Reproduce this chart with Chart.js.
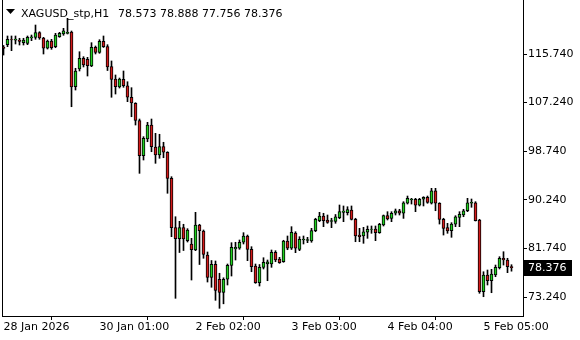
<!DOCTYPE html>
<html>
<head>
<meta charset="utf-8">
<script src="https://cdn.jsdelivr.net/npm/chart.js@4.4.1/dist/chart.umd.min.js"></script>
<style>
    html, body { margin: 0; padding: 0; background: #ffffff; }
    #wrap { width: 580px; height: 340px; }
</style>
</head>
<body>
<div id="wrap"><canvas id="priceChart" width="580" height="340"></canvas></div>
<script>
    "use strict";
    const symbolName = 'XAGUSD_stp,H1';
    // H1 bars, index 0 = 28 Jan 2026
    const opens = [116.96, 117.37, 118.28, 118.14, 118.19, 117.72, 117.61, 118.54, 118.66, 119.47,
        118.54, 116.74, 118.01, 117.02, 118.76, 119.24, 119.36, 119.59, 110.02, 113.12,
        114.99, 114.81, 113.64, 116.91, 116.00, 117.96, 117.05, 113.55, 111.37, 109.97,
        111.31, 110.19, 108.17, 107.12, 104.11, 97.95, 100.87, 103.32, 99.48, 98.08,
        99.53, 98.55, 94.00, 85.39, 83.44, 85.39, 83.09, 82.51, 81.46, 85.81,
        84.78, 80.59, 76.65, 78.96, 76.34, 74.03, 76.34, 78.78, 81.63, 81.76,
        82.81, 83.91, 81.58, 78.66, 75.74, 78.43, 79.01, 79.01, 81.06, 79.89,
        79.41, 83.03, 81.76, 84.43, 81.55, 83.21, 83.12, 83.03, 84.84, 86.59,
        87.41, 86.71, 86.45, 86.45, 87.11, 88.05, 87.99, 88.46, 86.83, 84.08,
        83.91, 84.56, 85.05, 85.13, 84.49, 85.83, 87.46, 87.00, 87.88, 88.33,
        87.88, 89.63, 90.20, 90.33, 89.28, 90.33, 90.68, 89.63, 91.83, 89.63,
        86.83, 85.36, 84.84, 85.96, 87.18, 87.58, 88.33, 89.63, 89.73, 86.71,
        74.17, 77.09, 76.09, 77.09, 78.36, 80.01, 79.71, 78.573];
    const highs = [117.23, 118.89, 118.89, 118.89, 118.49, 118.49, 118.89, 119.06, 120.81, 119.64,
        118.66, 118.19, 118.31, 119.36, 119.53, 120.23, 121.98, 119.76, 113.24, 116.14,
        115.27, 115.16, 117.72, 117.14, 118.24, 118.89, 117.37, 114.52, 112.07, 111.54,
        112.77, 110.89, 109.85, 107.22, 104.37, 101.28, 103.79, 104.37, 101.87, 101.70,
        100.30, 98.65, 94.28, 87.28, 86.48, 85.96, 85.19, 83.50, 88.05, 85.96,
        84.96, 81.11, 79.62, 79.54, 77.39, 76.60, 79.01, 82.74, 82.81, 83.21,
        84.49, 84.08, 82.04, 79.01, 78.92, 80.11, 79.71, 81.46, 81.34, 80.18,
        83.16, 83.91, 85.54, 84.66, 83.79, 83.91, 83.68, 85.25, 87.01, 88.05,
        87.88, 87.58, 87.01, 87.67, 89.33, 89.16, 89.03, 89.16, 87.01, 85.25,
        85.43, 85.66, 85.66, 85.66, 86.13, 87.58, 88.16, 88.16, 88.63, 88.58,
        89.91, 90.90, 90.50, 90.50, 90.50, 90.78, 90.90, 92.25, 92.25, 89.73,
        87.01, 86.13, 86.24, 87.46, 88.16, 88.58, 90.50, 90.38, 89.91, 86.83,
        77.66, 77.96, 78.08, 78.83, 80.29, 81.16, 80.01, 78.888];
    const lows = [115.56, 117.02, 116.32, 117.49, 117.31, 117.31, 117.37, 118.07, 118.31, 118.31,
        115.74, 116.61, 116.56, 116.84, 118.66, 119.01, 119.24, 106.52, 109.44, 112.77,
        113.47, 111.89, 113.52, 115.74, 115.86, 116.88, 112.85, 108.17, 108.74, 109.79,
        109.92, 107.40, 104.77, 103.32, 94.87, 97.20, 100.40, 98.65, 96.62, 97.50,
        97.60, 91.38, 83.79, 73.01, 81.02, 81.37, 82.86, 76.21, 81.34, 78.92,
        80.01, 75.86, 74.94, 72.66, 71.26, 72.05, 75.34, 76.91, 79.71, 81.58,
        82.51, 79.59, 77.66, 75.63, 75.16, 78.14, 76.09, 78.43, 79.41, 79.13,
        79.31, 81.51, 81.55, 80.99, 81.34, 82.51, 82.74, 82.81, 84.66, 86.41,
        85.54, 86.13, 85.37, 86.13, 86.93, 86.41, 87.58, 86.71, 82.91, 82.91,
        82.63, 83.50, 84.38, 83.09, 84.38, 85.66, 86.71, 86.41, 87.58, 87.58,
        86.99, 89.50, 89.50, 88.16, 89.16, 89.16, 89.63, 89.50, 88.33, 86.00,
        84.08, 84.38, 83.68, 85.54, 85.54, 87.28, 88.16, 88.93, 86.53, 73.89,
        73.29, 75.34, 73.99, 76.79, 78.14, 78.83, 77.49, 77.756];
    const closes = [116.70, 118.31, 118.19, 118.36, 117.96, 118.19, 118.66, 118.76, 119.47, 118.54,
        116.74, 118.01, 116.84, 119.06, 119.36, 119.81, 119.53, 109.97, 112.77, 114.99,
        113.82, 113.69, 116.91, 116.00, 117.96, 117.02, 113.47, 111.31, 110.02, 111.37,
        110.19, 108.17, 107.17, 104.11, 97.95, 101.00, 103.32, 99.53, 98.08, 99.53,
        98.55, 94.00, 85.36, 83.44, 85.39, 83.38, 84.96, 81.51, 85.81, 84.84,
        80.67, 76.65, 78.96, 74.38, 74.03, 76.34, 78.78, 81.93, 81.93, 82.81,
        83.91, 81.58, 78.54, 75.74, 78.43, 79.31, 79.41, 81.06, 79.71, 79.24,
        83.03, 81.76, 84.56, 81.76, 83.33, 83.38, 83.30, 84.84, 86.83, 87.41,
        86.59, 86.27, 86.62, 87.27, 88.19, 88.28, 88.51, 86.83, 83.91, 83.79,
        84.66, 85.08, 85.13, 84.49, 85.96, 87.46, 86.88, 87.88, 88.33, 87.88,
        89.73, 90.50, 90.38, 89.28, 90.33, 90.68, 89.80, 91.83, 89.63, 86.83,
        85.25, 84.78, 86.01, 87.28, 87.70, 88.33, 89.73, 89.80, 86.59, 74.17,
        77.09, 76.09, 77.26, 78.43, 80.01, 79.71, 78.54, 78.376];
    const xTickIndex = [0, 24, 48, 72, 96, 120];
    const xTickText = ['28 Jan 2026', '30 Jan 01:00', '2 Feb 02:00', '3 Feb 03:00', '4 Feb 04:00', '5 Feb 05:00'];
    const yTickValues = [73.24, 81.74, 90.24, 98.74, 107.24, 115.74];

    const bullColor = '#1fd01f';
    const bearColor = '#d41a1a';
    const fontFamily = '"DejaVu Sans", sans-serif';
    const last = closes.length - 1;

    let wicks = lows.map(function (low, i) {
        return {x: i, y: [low, highs[i]]};
    });
    let bodies = opens.map(function (open, i) {
        return {x: i, y: [open, closes[i]]};
    });
    let bodyColors = opens.map(function (open, i) {
        return closes[i] >= open ? bullColor : bearColor;
    });

    // border, header and last price box
    const terminalDecor = {
        id: 'terminalDecor',
        afterDraw: function (chart) {
            const ctx = chart.ctx;
            const area = chart.chartArea;
            const y = chart.scales.y;
            ctx.save();
            ctx.strokeStyle = '#000';
            ctx.lineWidth = 1;
            ctx.beginPath();
            ctx.moveTo(area.left + 0.5, area.top);
            ctx.lineTo(area.left + 0.5, area.bottom + 1);
            ctx.stroke();

            // header
            ctx.fillStyle = '#000';
            ctx.beginPath();
            ctx.moveTo(6, 9);
            ctx.lineTo(15, 9);
            ctx.lineTo(10.5, 14);
            ctx.closePath();
            ctx.fill();
            ctx.font = '11px ' + fontFamily;
            ctx.textBaseline = 'alphabetic';
            ctx.textAlign = 'left';
            ctx.fillText(symbolName, 21, 17);
            let ohlc = [opens[last], highs[last], lows[last], closes[last]].map(function (v) {
                return v.toFixed(3);
            }).join(' ');
            ctx.fillText(ohlc, 118, 17);

            // last price
            let py = Math.round(y.getPixelForValue(closes[last]));
            ctx.fillStyle = '#000';
            ctx.fillRect(area.right + 1, py - 8, 48, 16);
            ctx.fillStyle = '#fff';
            ctx.textBaseline = 'middle';
            ctx.fillText(closes[last].toFixed(3), area.right + 5, py + 0.5);
            ctx.restore();
        }
    };

    const config = {
        type: 'bar',
        data: {
            datasets: [
                {
                    label: 'wick',
                    data: wicks,
                    backgroundColor: '#000',
                    borderWidth: 0,
                    barThickness: 1,
                    grouped: false,
                    order: 2
                },
                {
                    label: 'body',
                    data: bodies,
                    backgroundColor: bodyColors,
                    borderColor: '#000',
                    borderWidth: 1,
                    borderSkipped: false,
                    barThickness: 3,
                    grouped: false,
                    order: 1
                }
            ]
        },
        options: {
            responsive: false,
            animation: false,
            layout: {
                padding: {left: 2, top: 0, right: 0, bottom: 0}
            },
            plugins: {
                legend: {display: false},
                tooltip: {enabled: false}
            },
            scales: {
                x: {
                    type: 'linear',
                    min: -0.375,
                    max: 129.875,
                    offset: false,
                    afterBuildTicks: function (scale) {
                        scale.ticks = xTickIndex.map(function (v) { return {value: v}; });
                    },
                    afterFit: function (scale) {
                        scale.height = 24;
                        scale.paddingLeft = 0;
                        scale.paddingRight = 0;
                    },
                    grid: {
                        drawOnChartArea: false,
                        drawTicks: true,
                        tickLength: 4,
                        color: '#000'
                    },
                    border: {display: true, color: '#000'},
                    ticks: {
                        autoSkip: false,
                        maxRotation: 0,
                        align: 'start',
                        padding: 1,
                        color: '#000',
                        font: {family: fontFamily, size: 11},
                        callback: function (value) {
                            let k = xTickIndex.indexOf(value);
                            return k >= 0 ? xTickText[k] : '';
                        }
                    }
                },
                y: {
                    type: 'linear',
                    position: 'right',
                    min: 69.917,
                    max: 125.185,
                    afterBuildTicks: function (scale) {
                        scale.ticks = yTickValues.map(function (v) { return {value: v}; });
                    },
                    afterFit: function (scale) {
                        scale.width = 57;
                        scale.paddingTop = 0;
                        scale.paddingBottom = 0;
                    },
                    grid: {
                        drawOnChartArea: false,
                        drawTicks: true,
                        tickLength: 4,
                        color: '#000'
                    },
                    border: {display: true, color: '#000'},
                    ticks: {
                        padding: 1,
                        color: '#000',
                        font: {family: fontFamily, size: 11},
                        callback: function (value) {
                            return Number(value).toFixed(3);
                        }
                    }
                }
            }
        },
        plugins: [terminalDecor]
    };

    new Chart(document.getElementById('priceChart'), config);
</script>
</body>
</html>
